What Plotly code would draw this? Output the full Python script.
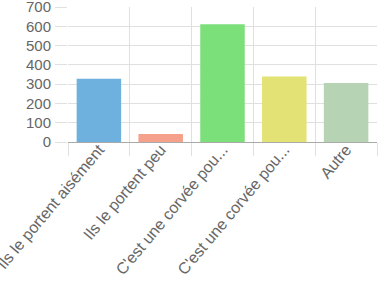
import plotly.graph_objects as go

categories = ["Ils le portent aisément", "Ils le portent peu", "C'est une corvée pou...",
              "C'est une corvée pou...", "Autre"]
cat_ids = ["c1", "c2", "c3", "c4", "c5"]
values = [328, 42, 610, 339, 306]
colors = ["#6EB1DF", "#F4A08A", "#7BDF7A", "#E2E275", "#B6D3B4"]
y_ticks = [0, 100, 200, 300, 400, 500, 600, 700]

fig = go.Figure(go.Bar(x=cat_ids, y=values, marker_color=colors, width=0.72,
                       marker_line_width=0))
fig.update_layout(
    width=381, height=285, margin=dict(l=68, r=4, t=7, b=143),
    paper_bgcolor="white", plot_bgcolor="white", showlegend=False,
    font=dict(family="Liberation Sans, Arial", color="#666666"),
)
fig.update_xaxes(
    type="category", tickmode="array", tickvals=cat_ids, ticktext=categories,
    tickson="boundaries", ticks="outside", ticklen=13, tickcolor="#e0e0e0",
    showgrid=True, gridcolor="#e0e0e0", gridwidth=1, tickangle=-50,
    tickfont=dict(size=16), showline=True, linecolor="#aaaaaa",
    range=[-0.5, 4.5], ticklabelstandoff=-9, automargin=False,
    ticklabeloverflow="allow",
)
fig.update_yaxes(
    range=[0, 700], tickvals=y_ticks, showgrid=True, gridcolor="#e0e0e0",
    ticks="outside", ticklen=12, tickcolor="#e0e0e0", tickfont=dict(size=15),
    zeroline=False, showline=False, ticklabelstandoff=1, automargin=False,
    ticklabeloverflow="allow",
)
fig.write_html("out.html")
